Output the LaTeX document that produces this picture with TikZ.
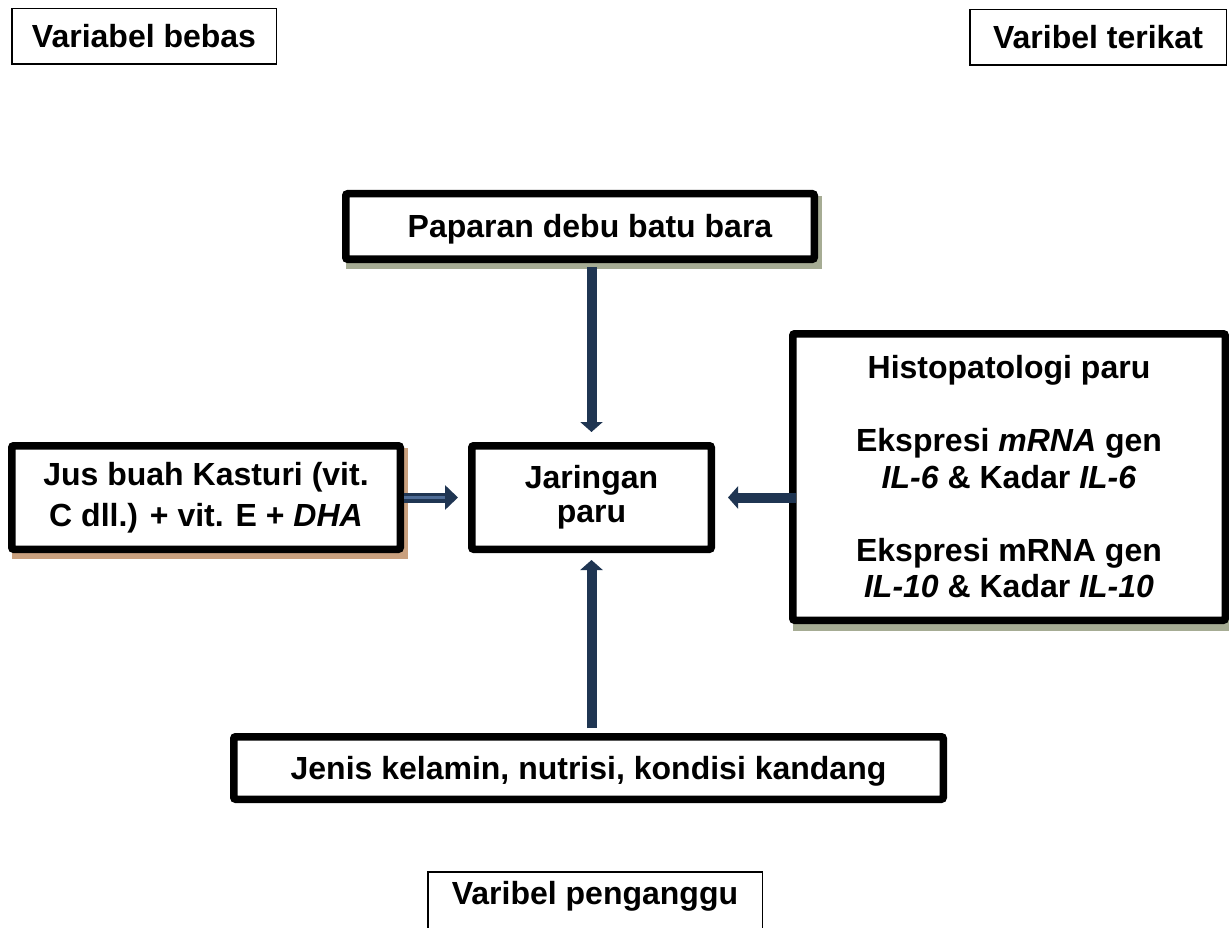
\documentclass[tikz,border=0pt]{standalone}
\usepackage{fontspec}
\setmainfont{Liberation Sans}
\usetikzlibrary{arrows.meta,backgrounds,calc}
\definecolor{navy}{RGB}{31,53,82}
\definecolor{navylight}{RGB}{78,108,150}
\definecolor{shadowolive}{RGB}{166,172,148}
\definecolor{shadowtan}{RGB}{201,160,126}
\tikzset{
  txt/.style={font=\fontsize{32}{36.5}\selectfont\bfseries, align=center, inner sep=0pt},
  oneline/.style={text height=23pt, text depth=0pt},
  thinbox/.style={txt, oneline, draw=black, line width=1.5pt, fill=white},
  thickbox/.style={txt, draw=black, line width=7.5pt, rounded corners=2pt, fill=white},
  flow/.style={draw=navy, line width=10pt, -{Triangle[width=22pt,length=10pt]}},
}
\begin{document}
\begin{tikzpicture}[x=1pt,y=-1pt]
\useasboundingbox (0,0) rectangle (1229,928);

% category labels
\node[thinbox, minimum width=264.5pt, minimum height=55.5pt] (bebas) at (144,36.5) {Variabel bebas};
\node[thinbox, minimum width=256.5pt, minimum height=55.5pt] (terikat) at (1098,37.5) {Varibel terikat};
\node[thinbox, minimum width=334.5pt, minimum height=62.5pt, text depth=21pt] (penganggu) at (595,903) {Varibel penganggu};

% main boxes
\node[thickbox, oneline, minimum width=468.5pt, minimum height=65.5pt] (paparan) at (580,226.5)
  {\hspace*{20pt}Paparan debu batu bara};
\node[thickbox, minimum width=388.5pt, minimum height=103.5pt] (jus) at (206,497.5)
  {Jus buah Kasturi (vit.\\[5pt]C dll.) + vit. E + \textit{DHA}};
\node[thickbox, minimum width=239.5pt, minimum height=103.5pt] (jar) at (591.5,497.5)
  {Jaringan\\[-2.5pt]paru};
\node[thickbox, minimum width=432.5pt, minimum height=286.5pt] (hasil) at (1009,477)
  {Histopatologi paru\\[36.5pt]
   Ekspresi \textit{mRNA} gen\\
   \textit{IL-6} \& Kadar \textit{IL-6}\\[36.5pt]
   Ekspresi mRNA gen\\
   \textit{IL-10} \& Kadar \textit{IL-10}};
\node[thickbox, oneline, minimum width=709.5pt, minimum height=62.5pt] (jenis) at (588.5,768)
  {Jenis kelamin, nutrisi, kondisi kandang};

% drop shadows and page background
\begin{scope}[on background layer]
  \fill[white] (0,0) rectangle (1229,928);
  \fill[shadowolive] ($(paparan.north west)+(4,6)$) rectangle ($(paparan.south east)+(4,6)$);
  \fill[shadowtan] ($(jus.north west)+(4,6)$) rectangle ($(jus.south east)+(4,6)$);
  \fill[shadowolive] ($(hasil.north west)+(4,7)$) rectangle ($(hasil.south east)+(4,7)$);
\end{scope}

% connectors
\draw[flow, shorten <=4pt, shorten >=10pt] (paparan.south -| jar.north) -- (jar.north);
\draw[flow, shorten <=5pt, shorten >=7pt] (jenis.north -| jar.south) -- (jar.south);
\draw[flow, shorten <=-7pt, shorten >=13pt] (jar.east -| hasil.west) -- (jar.east);
\draw[draw=navy, line width=10pt, -{Triangle[width=24pt,length=13pt]}, shorten >=10pt] (jus.east) -- (jar.west);
\draw[navylight, line width=3pt, shorten >=23pt] (jus.east) -- (jar.west);
\end{tikzpicture}
\end{document}
